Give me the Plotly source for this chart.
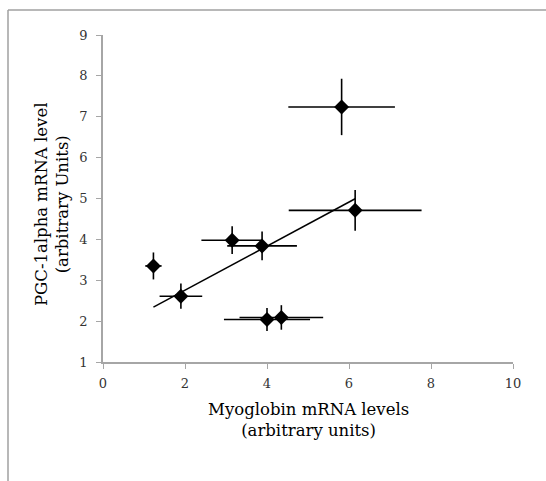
import numpy as np
import plotly.graph_objects as go

# Data
myoglobin = [1.23, 1.90, 3.15, 3.88, 4.00, 4.35, 5.82, 6.15]
pgc1a = [3.35, 2.61, 3.98, 3.84, 2.04, 2.09, 7.24, 4.71]
myoglobin_err = [0.20, 0.52, 0.75, 0.85, 1.05, 1.02, 1.30, 1.62]
pgc1a_err = [0.33, 0.31, 0.34, 0.35, 0.28, 0.30, 0.69, 0.50]

x_ticks = [0, 2, 4, 6, 8, 10]
y_ticks = [1, 2, 3, 4, 5, 6, 7, 8, 9]

x_title = "Myoglobin mRNA levels<br>(arbitrary units)"
y_title = "PGC-1alpha mRNA level<br>(arbitrary Units)"

W, H = 546, 481
L, R, T, B = 103, 33, 35, 119
PW, PH = W - L - R, H - T - B

def px_x(px):
    return (px - L) / PW

def px_y(py):
    return (H - B - py) / PH

FONT = "DejaVu Serif"
AXIS_COLOR = "#a6a6a6"

# Linear trendline (least squares) over the data range
slope, intercept = np.polyfit(myoglobin, pgc1a, 1)
tx = [min(myoglobin), max(myoglobin)]
ty = [slope * v + intercept for v in tx]

fig = go.Figure()
fig.add_trace(go.Scatter(
    x=tx, y=ty, mode="lines",
    line=dict(color="black", width=1.5),
    showlegend=False, hoverinfo="skip",
))
fig.add_trace(go.Scatter(
    x=myoglobin, y=pgc1a, mode="markers",
    marker=dict(symbol="diamond", size=11.5, color="black"),
    error_x=dict(type="data", array=myoglobin_err, color="black", thickness=1.6, width=0),
    error_y=dict(type="data", array=pgc1a_err, color="black", thickness=1.6, width=0),
    showlegend=False,
))

axis_common = dict(
    showgrid=False, zeroline=False, showline=True, linecolor=AXIS_COLOR, linewidth=1.5,
    ticks="outside", ticklen=5, tickcolor=AXIS_COLOR, tickwidth=1.2,
    tickfont=dict(family=FONT, size=13, color="#333333"),
)

fig.update_layout(
    width=W, height=H,
    margin=dict(l=L, r=R, t=T, b=B, autoexpand=False),
    paper_bgcolor="white", plot_bgcolor="white",
    xaxis=dict(range=[0, 10], tickvals=x_ticks, ticklabelstandoff=4, **axis_common),
    yaxis=dict(range=[1, 9], tickvals=y_ticks, ticklabelstandoff=6, **axis_common),
    annotations=[
        dict(text=x_title, xref="paper", yref="paper", x=px_x(308), y=px_y(420),
             showarrow=False, font=dict(family=FONT, size=16.5, color="black"),
             xanchor="center", yanchor="middle", align="center"),
        dict(text=y_title, xref="paper", yref="paper", x=px_x(52), y=px_y(205),
             showarrow=False, textangle=-90, font=dict(family=FONT, size=16.5, color="black"),
             xanchor="center", yanchor="middle", align="center"),
    ],
    shapes=[
        dict(type="line", xref="paper", yref="paper", x0=px_x(8), x1=px_x(W + 2),
             y0=px_y(10), y1=px_y(10), line=dict(color="#a0a0a0", width=1.5)),
        dict(type="line", xref="paper", yref="paper", x0=px_x(8), x1=px_x(8),
             y0=px_y(10), y1=px_y(H + 2), line=dict(color="#a0a0a0", width=1.5)),
    ],
)

fig.write_html("out.html", config={"displayModeBar": False},
               post_script="document.body.style.margin='0px';")
